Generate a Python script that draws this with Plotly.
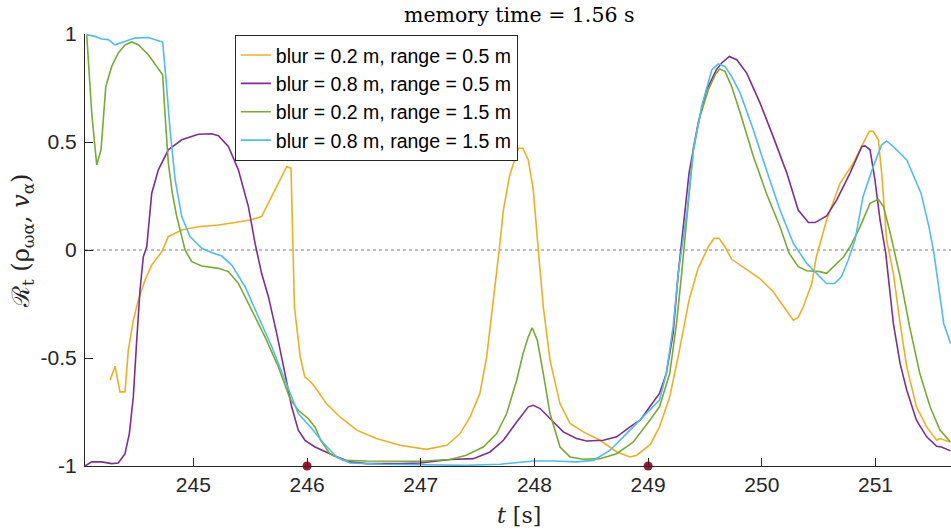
import plotly.graph_objects as go

# ---- data (time in s, correlation R_t) ----
legend_labels = [
    "blur = 0.2 m, range = 0.5 m",
    "blur = 0.8 m, range = 0.5 m",
    "blur = 0.2 m, range = 1.5 m",
    "blur = 0.8 m, range = 1.5 m",
]
colors = ["#EDB120", "#7E2F8E", "#77AC30", "#4DBEEE"]

t_b02_r05 = [244.268, 244.311, 244.355, 244.399, 244.428, 244.472, 244.516, 244.575, 244.634, 244.722,
             244.78, 244.898, 245.044, 245.22, 245.367, 245.499, 245.60, 245.821, 245.859, 245.875,
             245.889, 245.94, 245.98, 246.03, 246.07, 246.17, 246.29, 246.437, 246.61, 246.818,
             247.05, 247.229, 247.346, 247.434, 247.52, 247.58, 247.64, 247.69, 247.727, 247.78,
             247.858, 247.897, 247.946, 247.99, 248.034, 248.078, 248.137, 248.225, 248.313, 248.43,
             248.577, 248.724, 248.84, 248.9, 249.02, 249.1, 249.19, 249.27, 249.36, 249.44,
             249.53, 249.58, 249.624, 249.676, 249.735, 249.81, 249.9, 249.98, 250.10, 250.19,
             250.277, 250.32, 250.365, 250.44, 250.48, 250.57, 250.688, 250.805, 250.88, 250.945,
             250.98, 251.025, 251.054, 251.098, 251.157, 251.216, 251.275, 251.36, 251.45, 251.538,
             251.567, 251.656]
r_b02_r05 = [-0.603, -0.538, -0.657, -0.657, -0.464, -0.325, -0.232, -0.139, -0.07, -0.008,
             0.062, 0.093, 0.108, 0.116, 0.127, 0.139, 0.155, 0.386, 0.379, 0.0,
             -0.263, -0.495, -0.587, -0.61, -0.634, -0.711, -0.773, -0.834, -0.873, -0.904,
             -0.923, -0.904, -0.85, -0.773, -0.664, -0.495, -0.232, 0.0, 0.185, 0.34,
             0.471, 0.471, 0.417, 0.278, 0.0, -0.263, -0.51, -0.711, -0.803, -0.842,
             -0.881, -0.935, -0.958, -0.95, -0.9, -0.819, -0.68, -0.479, -0.232, -0.085,
             0.015, 0.054, 0.054, 0.015, -0.043, -0.07, -0.1, -0.131, -0.193, -0.263,
             -0.325, -0.312, -0.263, -0.155, -0.031, 0.139, 0.309, 0.402, 0.479, 0.549,
             0.549, 0.51, 0.356, 0.046, -0.108, -0.34, -0.541, -0.726, -0.819, -0.881,
             -0.873, -0.889]

t_b08_r05 = [244.047, 244.106, 244.194, 244.282, 244.34, 244.399, 244.437, 244.472, 244.502, 244.531,
             244.56, 244.59, 244.634, 244.692, 244.78, 244.898, 245.044, 245.16, 245.22, 245.308,
             245.396, 245.484, 245.543, 245.60, 245.66, 245.733, 245.806, 245.865, 245.923, 245.982,
             246.07, 246.23, 246.378, 246.525, 246.818, 246.994, 247.258, 247.463, 247.61, 247.727,
             247.844, 247.946, 247.99, 248.05, 248.137, 248.254, 248.37, 248.46, 248.606, 248.724,
             248.84, 248.93, 249.015, 249.1, 249.16, 249.22, 249.265, 249.295, 249.36, 249.44,
             249.515, 249.6, 249.647, 249.714, 249.78, 249.867, 249.985, 250.1, 250.22, 250.32,
             250.41, 250.468, 250.57, 250.659, 250.776, 250.88, 250.908, 250.952, 250.995, 251.04,
             251.09, 251.157, 251.216, 251.275, 251.36, 251.45, 251.538, 251.58, 251.66]
r_b08_r05 = [-1.0, -0.981, -0.981, -0.989, -0.986, -0.943, -0.85, -0.68, -0.417, -0.185,
             -0.031, 0.015, 0.263, 0.371, 0.464, 0.51, 0.536, 0.538, 0.529, 0.479,
             0.371, 0.201, 0.031, -0.108, -0.216, -0.386, -0.572, -0.726, -0.834, -0.881,
             -0.912, -0.95, -0.981, -0.989, -0.989, -0.986, -0.97, -0.966, -0.935, -0.881,
             -0.796, -0.726, -0.719, -0.734, -0.78, -0.842, -0.873, -0.884, -0.881, -0.865,
             -0.819, -0.788, -0.726, -0.664, -0.572, -0.386, -0.108, 0.046, 0.356, 0.587,
             0.742, 0.834, 0.866, 0.896, 0.881, 0.819, 0.68, 0.525, 0.356, 0.185,
             0.127, 0.127, 0.158, 0.232, 0.356, 0.479, 0.482, 0.464, 0.325, 0.139,
             -0.015, -0.34, -0.525, -0.649, -0.788, -0.865, -0.909, -0.912, -0.93]

t_b02_r15 = [244.062, 244.106, 244.15, 244.188, 244.23, 244.282, 244.34, 244.4, 244.458, 244.516,
             244.604, 244.73, 244.75, 244.78, 244.815, 244.854, 244.898, 244.927, 244.986, 245.074,
             245.22, 245.308, 245.396, 245.514, 245.63, 245.748, 245.85, 245.923, 246.01, 246.07,
             246.12, 246.2, 246.32, 246.525, 246.994, 247.258, 247.4, 247.55, 247.668, 247.756,
             247.844, 247.9, 247.946, 247.98, 248.025, 248.078, 248.137, 248.225, 248.313, 248.43,
             248.577, 248.724, 248.87, 249.015, 249.1, 249.19, 249.25, 249.295, 249.324, 249.4,
             249.456, 249.53, 249.59, 249.63, 249.676, 249.735, 249.81, 249.926, 250.04, 250.16,
             250.24, 250.32, 250.395, 250.51, 250.57, 250.63, 250.72, 250.776, 250.865, 250.952,
             251.025, 251.07, 251.13, 251.216, 251.3, 251.39, 251.48, 251.567, 251.66]
r_b02_r15 = [0.997, 0.634, 0.394, 0.464, 0.757, 0.85, 0.912, 0.95, 0.963, 0.95,
             0.904, 0.811, 0.634, 0.402, 0.263, 0.155, 0.062, 0.0, -0.054, -0.074,
             -0.085, -0.1, -0.155, -0.278, -0.402, -0.541, -0.688, -0.742, -0.78, -0.819,
             -0.881, -0.943, -0.974, -0.977, -0.978, -0.97, -0.95, -0.912, -0.85, -0.757,
             -0.603, -0.479, -0.402, -0.36, -0.417, -0.572, -0.757, -0.912, -0.958, -0.969,
             -0.966, -0.943, -0.889, -0.788, -0.726, -0.572, -0.34, -0.108, 0.046, 0.479,
             0.618, 0.742, 0.811, 0.838, 0.827, 0.757, 0.634, 0.433, 0.263, 0.108,
             -0.015, -0.077, -0.096, -0.1, -0.108, -0.077, -0.031, 0.015, 0.108, 0.216,
             0.235, 0.201, 0.077, -0.124, -0.355, -0.572, -0.726, -0.834, -0.889]

t_b08_r15 = [244.062, 244.135, 244.194, 244.252, 244.31, 244.37, 244.487, 244.604, 244.73, 244.76,
             244.795, 244.84, 244.898, 244.97, 245.074, 245.16, 245.25, 245.338, 245.455, 245.572,
             245.69, 245.806, 245.923, 246.03, 246.07, 246.148, 246.26, 246.378, 246.67, 247.4,
             247.7, 247.844, 247.99, 248.166, 248.37, 248.52, 248.665, 248.81, 249.015, 249.1,
             249.16, 249.22, 249.265, 249.34, 249.4, 249.47, 249.56, 249.617, 249.676, 249.735,
             249.81, 249.926, 250.04, 250.16, 250.277, 250.395, 250.51, 250.57, 250.64, 250.7,
             250.76, 250.82, 250.89, 250.98, 251.054, 251.098, 251.157, 251.275, 251.4, 251.47,
             251.514, 251.6, 251.66]
r_b08_r15 = [0.997, 0.989, 0.977, 0.974, 0.95, 0.961, 0.981, 0.984, 0.963, 0.788,
             0.556, 0.325, 0.155, 0.062, 0.008, -0.012, -0.028, -0.07, -0.17, -0.309,
             -0.448, -0.603, -0.757, -0.819, -0.847, -0.896, -0.958, -0.986, -0.992, -0.997,
             -0.992, -0.986, -0.977, -0.977, -0.981, -0.974, -0.927, -0.85, -0.742, -0.695,
             -0.572, -0.355, -0.108, 0.17, 0.464, 0.664, 0.834, 0.862, 0.85, 0.803,
             0.726, 0.556, 0.371, 0.185, 0.031, -0.062, -0.124, -0.155, -0.155, -0.124,
             -0.046, 0.046, 0.247, 0.386, 0.487, 0.505, 0.479, 0.417, 0.263, 0.108,
             -0.015, -0.34, -0.433]

marker_t = [246, 249]
marker_r = [-1, -1]

x_ticks = [245, 246, 247, 248, 249, 250, 251]
x_ticktext = ["245", "246", "247", "248", "249", "250", "251"]
y_ticks = [-1, -0.5, 0, 0.5, 1]
y_ticktext = ["-1", "-0.5", "0", "0.5", "1"]
x_range = [244.047, 251.664]
y_range = [-1, 1]

title_text = "memory time = 1.56 s"
xlabel_text = "<i>t</i> [s]"
ylabel_text = "ℛ<sub>t</sub> (ρ<sub>ωα</sub>, <i>v</i><sub>α</sub>)"

# ---- figure ----
series = [(t_b02_r05, r_b02_r05), (t_b08_r05, r_b08_r05),
          (t_b02_r15, r_b02_r15), (t_b08_r15, r_b08_r15)]

fig = go.Figure()
for (tt, rr), name, col in zip(series, legend_labels, colors):
    fig.add_trace(go.Scatter(x=tt, y=rr, mode="lines", name=name,
                             line=dict(color=col, width=1.6)))

fig.add_trace(go.Scatter(x=marker_t, y=marker_r, mode="markers", showlegend=False,
                         marker=dict(color="#A2142F", size=9), cliponaxis=False))

fig.add_shape(type="line", xref="paper", x0=0, x1=1, yref="y", y0=0, y1=0,
              line=dict(color="#7f7f7f", width=1, dash="dot"), layer="below")

axis_font = dict(family="Liberation Sans, Arial, sans-serif", size=21, color="#262626")
fig.update_xaxes(range=x_range, tickvals=x_ticks, ticktext=x_ticktext,
                 showline=True, linecolor="#262626", linewidth=1, mirror=False,
                 ticks="inside", ticklen=8, tickwidth=1, tickcolor="#262626",
                 showgrid=False, zeroline=False, tickfont=axis_font)
fig.update_yaxes(range=y_range, tickvals=y_ticks, ticktext=y_ticktext,
                 showline=True, linecolor="#262626", linewidth=1, mirror=False,
                 ticks="inside", ticklen=8, tickwidth=1, tickcolor="#262626",
                 showgrid=False, zeroline=False, tickfont=axis_font,
                 ticklabelstandoff=3)

serif = "DejaVu Serif, Liberation Serif, serif"
fig.update_layout(
    width=951, height=531,
    margin=dict(l=85, r=0, t=34, b=65),
    plot_bgcolor="white", paper_bgcolor="white",
    showlegend=True,
    legend=dict(x=0.173, y=0.998, xanchor="left", yanchor="top",
                bgcolor="white", bordercolor="#262626", borderwidth=1,
                font=dict(family="Liberation Sans, Arial, sans-serif", size=19.5, color="black")),
    annotations=[
        dict(text=title_text, xref="paper", yref="paper", x=0.502, y=1.044,
             xanchor="center", yanchor="middle", showarrow=False,
             font=dict(family=serif, size=20.5, color="black")),
        dict(text=xlabel_text, xref="paper", yref="paper", x=0.501, y=-0.115,
             xanchor="center", yanchor="middle", showarrow=False,
             font=dict(family=serif, size=22, color="#262626")),
        dict(text=ylabel_text, xref="paper", yref="paper", x=-0.072, y=0.52,
             xanchor="center", yanchor="middle", showarrow=False, textangle=-90,
             font=dict(family=serif, size=24, color="#262626")),
    ],
)

fig.write_html("out.html")
